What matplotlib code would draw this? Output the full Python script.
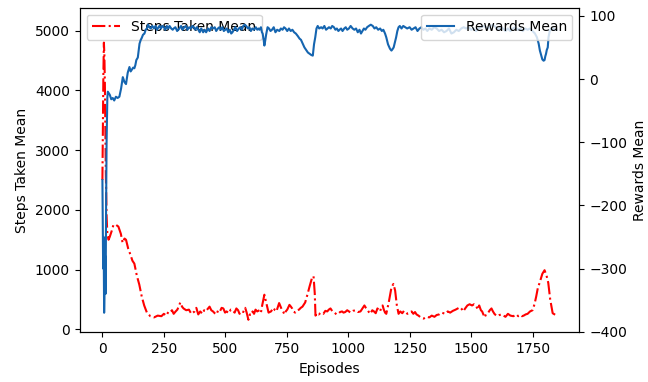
import numpy as np
import matplotlib.pyplot as plt

# steps taken (rolling mean): (episode, value)
steps_pts = [
    (0, 2500), (2, 3400), (4, 4300), (6, 4800), (8, 4600), (10, 4100), (12, 3300), (14, 2600),
    (17, 1900), (20, 1600), (25, 1500), (30, 1550), (38, 1650), (45, 1750), (55, 1750),
    (65, 1720), (75, 1600), (82, 1450), (90, 1520), (96, 1500), (105, 1350), (114, 1250),
    (122, 1150), (130, 1100), (140, 900), (150, 750), (160, 550), (170, 400), (181, 280),
    (195, 220), (210, 200), (225, 230), (240, 220), (250, 260), (260, 230), (268, 290),
    (275, 280), (283, 320), (290, 260), (298, 300), (305, 330), (317, 450), (324, 380),
    (330, 350), (341, 320), (352, 330), (362, 260), (375, 300), (382, 360), (390, 250),
    (398, 300), (407, 260), (414, 320), (420, 300), (428, 340), (436, 380), (443, 320),
    (450, 300), (457, 270), (464, 250), (471, 320), (478, 300), (485, 360), (492, 350),
    (499, 280), (505, 300), (515, 270), (522, 330), (530, 320), (538, 280), (545, 350),
    (552, 320), (558, 260), (565, 300), (573, 290), (581, 360), (587, 280), (594, 160),
    (600, 250), (605, 240), (611, 300), (617, 260), (623, 330), (630, 300), (639, 320),
    (645, 280), (650, 400), (659, 580), (668, 420), (676, 280), (686, 300), (696, 360),
    (702, 320), (708, 300), (719, 440), (725, 380), (730, 330), (736, 290), (741, 250),
    (746, 300), (752, 330), (761, 410), (767, 380), (772, 350), (778, 300), (784, 280),
    (792, 320), (800, 330), (807, 360), (814, 380), (825, 450), (834, 580), (843, 720),
    (852, 850), (859, 890), (864, 600), (867, 230), (873, 270), (880, 250), (889, 280),
    (899, 260), (907, 310), (915, 300), (921, 330), (928, 350), (936, 300), (945, 280),
    (952, 250), (959, 260), (967, 290), (975, 300), (981, 280), (988, 290), (996, 320),
    (1003, 300), (1010, 280), (1020, 310), (1030, 320), (1040, 290), (1050, 300),
    (1058, 350), (1066, 400), (1072, 360), (1078, 330), (1084, 290), (1090, 260),
    (1098, 320), (1105, 300), (1112, 270), (1119, 350), (1125, 320), (1130, 300),
    (1135, 380), (1140, 400), (1145, 330), (1150, 280), (1155, 260), (1165, 450),
    (1176, 700), (1184, 760), (1191, 650), (1198, 400), (1205, 260), (1212, 300),
    (1220, 270), (1227, 310), (1233, 290), (1241, 260), (1250, 280), (1258, 300),
    (1265, 260), (1272, 290), (1278, 250), (1286, 230), (1295, 200), (1307, 180),
    (1318, 210), (1330, 200), (1340, 230), (1351, 210), (1360, 240), (1370, 250),
    (1380, 280), (1395, 260), (1405, 300), (1415, 280), (1426, 310), (1437, 330),
    (1446, 350), (1455, 370), (1462, 340), (1468, 300), (1476, 350), (1485, 400),
    (1494, 420), (1504, 400), (1512, 420), (1520, 400), (1527, 330), (1533, 400),
    (1540, 320), (1545, 300), (1550, 250), (1555, 200), (1562, 260), (1570, 280),
    (1576, 320), (1583, 350), (1589, 300), (1595, 260), (1600, 240), (1606, 220),
    (1615, 240), (1625, 250), (1632, 230), (1640, 210), (1650, 260), (1660, 230),
    (1672, 220), (1685, 250), (1692, 220), (1700, 240), (1707, 220), (1714, 230),
    (1722, 250), (1730, 260), (1740, 300), (1750, 320), (1758, 420), (1765, 550),
    (1772, 700), (1779, 780), (1790, 930), (1799, 990), (1807, 900), (1814, 780),
    (1822, 500), (1832, 270), (1840, 250), (1848, 230),
]

# rewards (rolling mean): (episode, value)
rew_pts = [
    (0, -160), (3, -300), (5, -250), (7, -370), (9, -320), (11, -280), (13, -340),
    (15, -200), (17, -100), (20, -30), (22, -20), (30, -25), (36, -32), (42, -30),
    (48, -34), (55, -28), (62, -30), (69, -28), (76, -15), (83, 3), (90, -5), (96, -8),
    (103, 10), (110, 19), (115, 12), (120, 15), (125, 18), (130, 17), (134, 22), (138, 30),
    (144, 34), (151, 56), (156, 62), (160, 65), (165, 70), (171, 72), (176, 78), (181, 80),
    (186, 86), (191, 82), (197, 80), (203, 84), (210, 80), (216, 84), (222, 78), (228, 82),
    (232, 84), (238, 80), (244, 84), (250, 82), (256, 78), (262, 84), (268, 80), (273, 84),
    (280, 80), (286, 78), (290, 80), (297, 82), (304, 76), (313, 80), (320, 84), (326, 78),
    (333, 82), (340, 84), (346, 78), (353, 82), (360, 80), (366, 84), (372, 82), (378, 78),
    (384, 82), (390, 78), (396, 74), (402, 80), (410, 74), (416, 78), (422, 74), (430, 80),
    (436, 76), (443, 82), (450, 80), (457, 82), (463, 76), (470, 80), (476, 82), (482, 78),
    (488, 82), (494, 76), (500, 78), (506, 80), (512, 74), (518, 78), (524, 72), (529, 74),
    (535, 78), (541, 82), (548, 76), (555, 80), (561, 82), (567, 78), (573, 84), (579, 86),
    (585, 84), (592, 80), (598, 82), (604, 76), (610, 80), (617, 78), (624, 82), (630, 78),
    (635, 80), (639, 78), (645, 82), (649, 74), (652, 72), (656, 62), (659, 53), (663, 62),
    (666, 70), (672, 82), (678, 80), (684, 76), (690, 78), (697, 82), (704, 74), (711, 78),
    (720, 76), (726, 80), (733, 78), (739, 82), (745, 80), (752, 76), (759, 80), (766, 76),
    (773, 78), (780, 74), (787, 72), (795, 68), (802, 64), (808, 62), (815, 56), (822, 50),
    (829, 46), (836, 42), (843, 40), (850, 38), (856, 37), (861, 55), (866, 66), (871, 80),
    (876, 84), (882, 80), (890, 82), (896, 80), (903, 84), (910, 78), (916, 80), (922, 82),
    (929, 80), (935, 84), (942, 82), (948, 78), (954, 80), (960, 76), (965, 78), (971, 80),
    (977, 76), (984, 80), (990, 82), (996, 78), (1003, 80), (1010, 84), (1018, 80),
    (1025, 78), (1032, 80), (1039, 74), (1046, 78), (1052, 72), (1058, 76), (1064, 80),
    (1070, 78), (1077, 82), (1084, 84), (1092, 86), (1100, 84), (1107, 80), (1114, 82),
    (1122, 78), (1130, 80), (1137, 76), (1143, 78), (1150, 72), (1155, 66), (1162, 55),
    (1170, 48), (1176, 45), (1180, 47), (1185, 50), (1190, 58), (1195, 66), (1200, 76),
    (1205, 82), (1210, 84), (1217, 80), (1224, 84), (1232, 82), (1240, 80), (1250, 82),
    (1258, 78), (1266, 80), (1274, 82), (1282, 76), (1290, 80), (1298, 82), (1306, 78),
    (1314, 80), (1322, 76), (1330, 80), (1340, 78), (1350, 82), (1360, 80), (1370, 76),
    (1380, 78), (1390, 74), (1400, 76), (1410, 80), (1420, 72), (1430, 74), (1440, 78),
    (1450, 76), (1460, 80), (1470, 82), (1480, 80), (1490, 82), (1500, 78), (1510, 80),
    (1520, 76), (1530, 80), (1540, 82), (1550, 84), (1560, 82), (1570, 80), (1580, 84),
    (1590, 86), (1600, 82), (1610, 78), (1620, 82), (1630, 80), (1640, 76), (1650, 80),
    (1660, 76), (1670, 80), (1680, 82), (1690, 78), (1700, 80), (1710, 76), (1720, 80),
    (1730, 78), (1740, 80), (1750, 76), (1760, 72), (1768, 66), (1775, 56), (1780, 45),
    (1785, 38), (1790, 31), (1795, 29), (1799, 30), (1802, 36), (1805, 40), (1808, 46),
    (1812, 50), (1815, 66), (1820, 76), (1825, 80), (1830, 78), (1835, 80), (1840, 78),
    (1848, 78),
]

steps_ep, steps_mean = zip(*steps_pts)
rew_ep, rew_mean = zip(*rew_pts)

fig, ax1 = plt.subplots(figsize=(6.48, 3.82), dpi=100)
ax1.plot(steps_ep, steps_mean, 'r-.', label='Steps Taken Mean')
ax1.set_xlabel('Episodes')
ax1.set_ylabel('Steps Taken Mean')
ax1.set_ylim(-50, 5385)
ax1.legend(loc='upper left')

ax2 = ax1.twinx()
ax2.plot(rew_ep, rew_mean, color='#1565b0', label='Rewards Mean')
ax2.set_ylabel('Rewards Mean')
ax2.set_ylim(-401, 113)
ax2.legend(loc='upper right')

plt.subplots_adjust(left=0.123, right=0.894, top=0.98, bottom=0.13)
plt.savefig('out.png')
